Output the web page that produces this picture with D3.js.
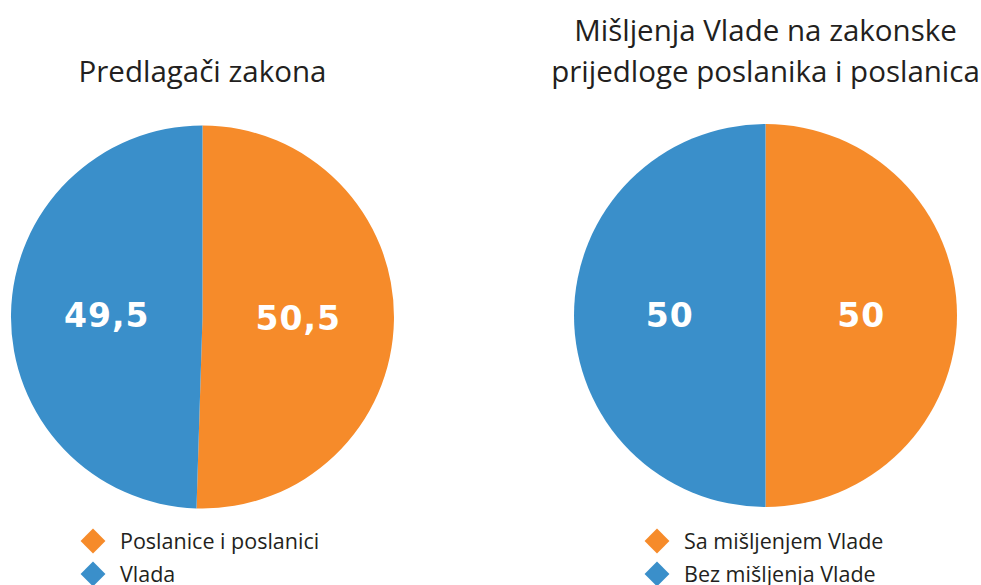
<!DOCTYPE html>
<html>
<head>
<meta charset="utf-8">
<script src="https://cdn.jsdelivr.net/npm/d3@7"></script>
<style>
  body { margin: 0; background: #fff; }
  svg { display: block; }
</style>
</head>
<body>
<div id="chart"></div>
<script>
// data
const leftTitle = ["Predlagači zakona"];
const leftCategories = ["Poslanice i poslanici", "Vlada"];
const leftValues = [50.5, 49.5];
const leftLabels = ["50,5", "49,5"];

const rightTitle = ["Mišljenja Vlade na zakonske", "prijedloge poslanika i poslanica"];
const rightCategories = ["Sa mišljenjem Vlade", "Bez mišljenja Vlade"];
const rightValues = [50, 50];
const rightLabels = ["50", "50"];

const colors = ["#F68B2A", "#3A8FCA"];

const width = 981, height = 585;
const svg = d3.select("#chart").append("svg")
    .attr("width", width)
    .attr("height", height);

const pie = d3.pie().sort(null).value(d => d);

function drawPie(cx, cy, r, titleLines, titleY, values, labels, categories, legendX, legendY) {
    const g = svg.append("g").attr("transform", `translate(${cx},${cy})`);
    const arc = d3.arc().innerRadius(0).outerRadius(r);
    const labelArc = d3.arc().innerRadius(r * 0.5).outerRadius(r * 0.5);
    const arcs = pie(values);

    g.selectAll("path")
        .data(arcs)
        .enter().append("path")
        .attr("d", arc)
        .attr("fill", (d, i) => colors[i]);

    g.selectAll(".lbl")
        .data(arcs)
        .enter().append("text")
        .attr("class", "lbl")
        .attr("transform", d => `translate(${labelArc.centroid(d)})`)
        .attr("text-anchor", "middle")
        .attr("dy", "0.36em")
        .attr("fill", "#fff")
        .style("font-family", "'DejaVu Sans', sans-serif")
        .style("font-weight", "bold")
        .style("font-size", "33px")
        .style("letter-spacing", "1px")
        .text((d, i) => labels[i]);

    // title
    svg.append("g").selectAll("text")
        .data(titleLines)
        .enter().append("text")
        .attr("x", cx)
        .attr("y", (d, i) => titleY + i * 41)
        .attr("text-anchor", "middle")
        .attr("fill", "#231f20")
        .style("font-family", "'Open Sans', sans-serif")
        .style("font-size", "29.5px")
        .text(d => d);

    // legend
    const lg = svg.append("g").attr("transform", `translate(${legendX},${legendY})`);
    const items = lg.selectAll("g")
        .data(categories)
        .enter().append("g")
        .attr("transform", (d, i) => `translate(0,${i * 33})`);
    items.append("path")
        .attr("d", d3.symbol().type(d3.symbolSquare).size(310))
        .attr("transform", "rotate(45)")
        .attr("fill", (d, i) => colors[i]);
    items.append("text")
        .attr("x", 27)
        .attr("dy", "0.35em")
        .attr("fill", "#231f20")
        .style("font-family", "'Open Sans', sans-serif")
        .style("font-size", "21.5px")
        .text(d => d);
}

drawPie(202.5, 317, 191.5, leftTitle, 82, leftValues, leftLabels, leftCategories, 93, 541);
drawPie(765.5, 315.5, 191.5, rightTitle, 41, rightValues, rightLabels, rightCategories, 657, 541);
</script>
</body>
</html>
